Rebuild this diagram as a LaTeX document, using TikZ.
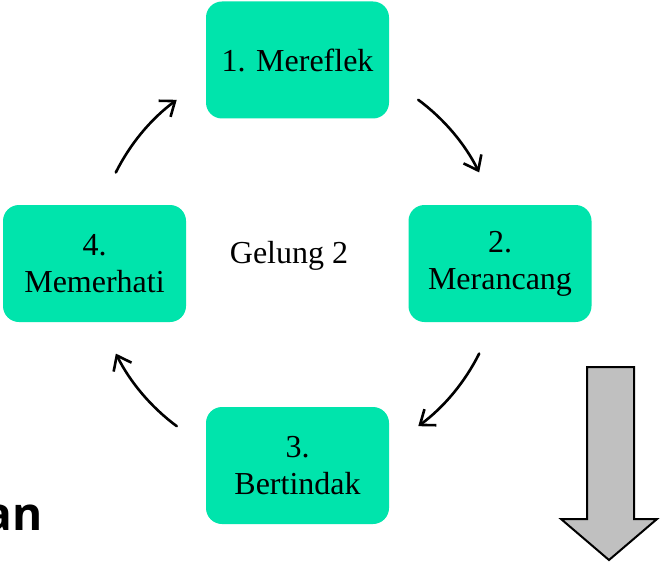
\documentclass[tikz,border=0pt]{standalone}
\usepackage{fontspec}
\setmainfont{Liberation Serif}
\newfontfamily\titlefont{Open Sans}[BoldFont={* Bold}]
\usetikzlibrary{arrows.meta}
\definecolor{boxgreen}{RGB}{0,228,172}
\definecolor{arrowgray}{RGB}{192,192,192}
\begin{document}
\begin{tikzpicture}[x=1pt,y=-1pt,
  stepbox/.style={fill=boxgreen, rounded corners=16pt, minimum width=183pt, minimum height=117pt,
    inner sep=0pt, align=center, font=\fontsize{32}{37}\selectfont},
  cyclearrow/.style={line width=2.6pt, line cap=round, -{Straight Barb[length=13pt,width=20pt,line width=2.6pt]}}]
\useasboundingbox (0,0) rectangle (660,564);
\fill[white] (0,0) rectangle (660,564);
\node[stepbox] (s1) at (297.5,60) {\raisebox{-3pt}{1. Mereflek}};
\node[stepbox] (s2) at (500,263.5) {\raisebox{-3pt}{2.}\\\raisebox{-3pt}{Merancang}};
\node[stepbox] (s3) at (297.5,465.5) {\raisebox{-3pt}{3.}\\\raisebox{-3pt}{Bertindak}};
\node[stepbox] (s4) at (94.5,263.5) {\raisebox{-3pt}{4.}\\\raisebox{-3pt}{Memerhati}};
\node[font=\fontsize{32}{37}\selectfont, anchor=base, inner sep=0pt] (g) at (289,263) {Gelung 2};
\coordinate (c) at (297.5,263);
\draw[cyclearrow] (c) ++(-53.5:203) arc[start angle=-53.5, end angle=-26.5, radius=203];
\draw[cyclearrow] (c) ++(26.5:203) arc[start angle=26.5, end angle=53.5, radius=203];
\draw[cyclearrow] (c) ++(126.5:203) arc[start angle=126.5, end angle=153.5, radius=203];
\draw[cyclearrow] (c) ++(206.5:203) arc[start angle=206.5, end angle=233.5, radius=203];
\draw[fill=arrowgray, line width=2pt, line join=miter]
  (587,367) -- (634,367) -- (634,519) -- (657,519) -- (609,560) -- (561,519) -- (587,519) -- cycle;
\node[font=\titlefont\bfseries\fontsize{46}{50}\selectfont, anchor=base east, inner sep=0pt] (t) at (43,530) {an};
\end{tikzpicture}
\end{document}
